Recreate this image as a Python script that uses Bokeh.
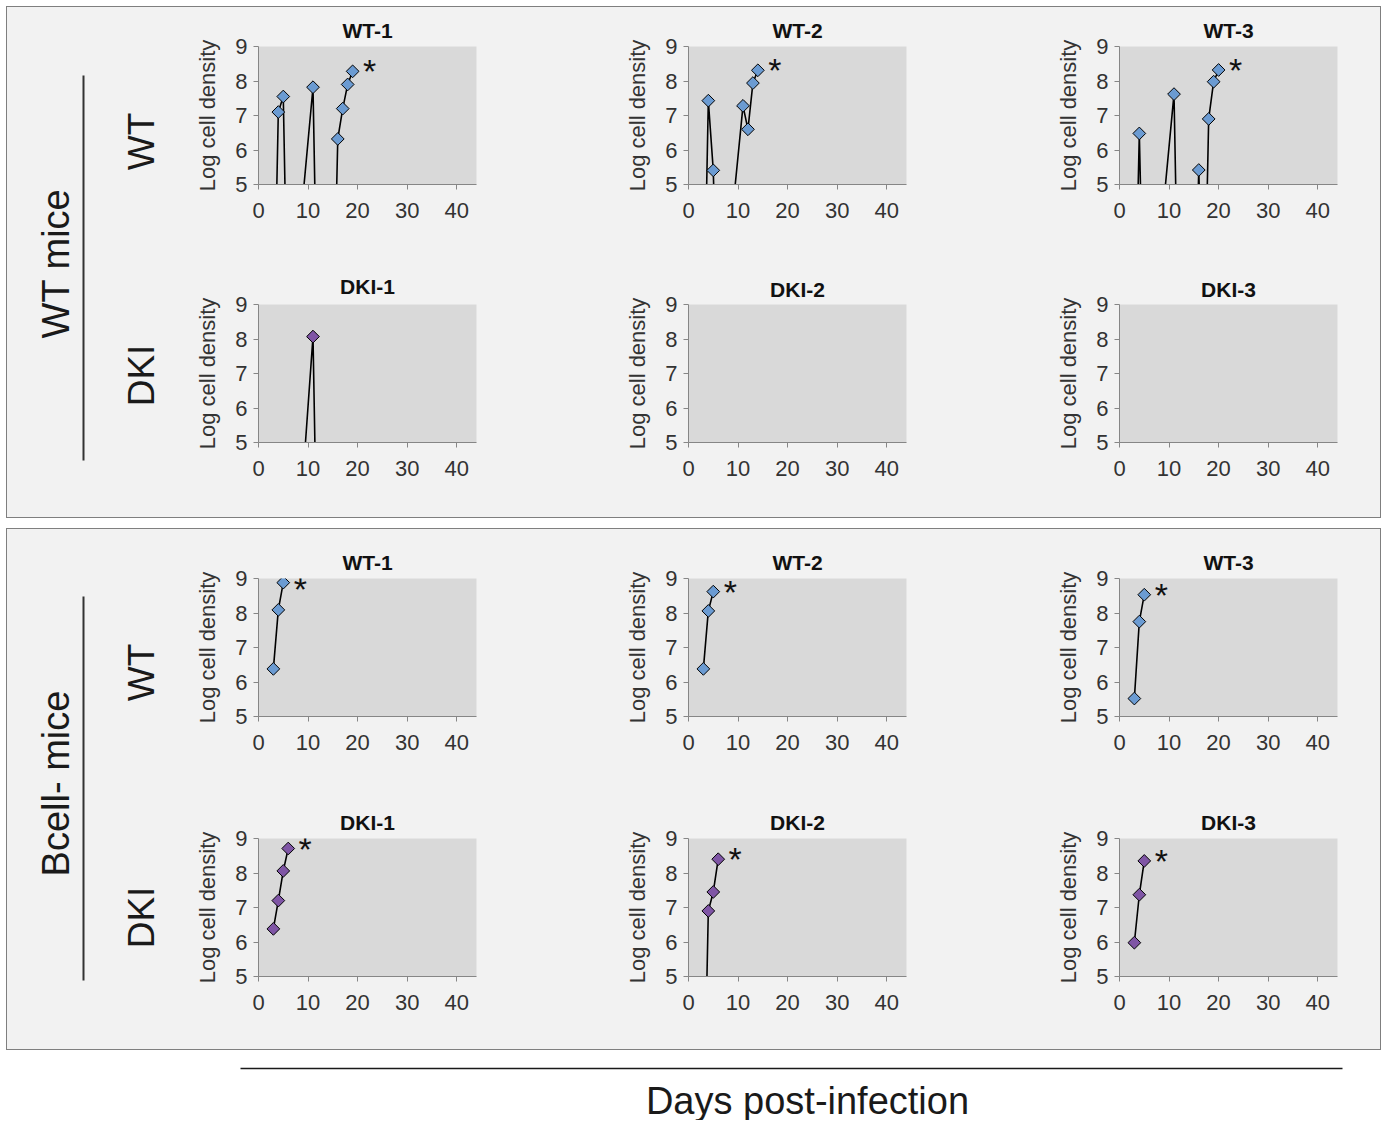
import math
from bokeh.plotting import figure
from bokeh.models import Range1d, FixedTicker, Spacer, Label
from bokeh.layouts import row, column
from bokeh.embed import file_html
from bokeh.resources import INLINE
from bokeh.core.properties import value

FONT = "Liberation Sans"
PANEL_BG = "#f2f2f2"
PLOT_BG = "#d9d9d9"
EDGE = "#7f7f7f"
BLUE = "#6b9bd2"
PURPLE = "#7f55a5"

# ---------------- data ----------------
x_ticks = [0, 10, 20, 30, 40]
y_ticks = [5, 6, 7, 8, 9]

# WT mice panel
wtm_wt1_day = [3, 4, 5, 6, 11, 12, 15, 16, 17, 18, 19]
wtm_wt1_log = [0, 7.10, 7.55, 0, 7.82, 0, 0, 6.32, 7.20, 7.90, 8.28]
wtm_wt2_day = [3, 4, 5, 6, 11, 12, 13, 14]
wtm_wt2_log = [0, 7.43, 5.41, 0, 7.28, 6.60, 7.94, 8.31]
wtm_wt3_day = [3, 4, 5, 6, 11, 12, 15, 16, 17, 18, 19, 20]
wtm_wt3_log = [0, 6.48, 0, 0, 7.62, 0, 0, 5.42, 0, 6.90, 7.98, 8.32]
wtm_dki1_day = [7, 11, 12]
wtm_dki1_log = [0, 8.07, 0]
wtm_dki2_day = []
wtm_dki2_log = []
wtm_dki3_day = []
wtm_dki3_log = []

# Bcell- mice panel
bcm_wt1_day = [3, 4, 5]
bcm_wt1_log = [6.38, 8.09, 8.88]
bcm_wt2_day = [3, 4, 5]
bcm_wt2_log = [6.38, 8.06, 8.62]
bcm_wt3_day = [3, 4, 5]
bcm_wt3_log = [5.52, 7.75, 8.53]
bcm_dki1_day = [3, 4, 5, 6]
bcm_dki1_log = [6.38, 7.20, 8.06, 8.71]
bcm_dki2_day = [3, 4, 5, 6]
bcm_dki2_log = [0, 6.90, 7.45, 8.40]
bcm_dki3_day = [3, 4, 5]
bcm_dki3_log = [5.98, 7.37, 8.35]

titles_wt = ["WT-1", "WT-2", "WT-3"]
titles_dki = ["DKI-1", "DKI-2", "DKI-3"]
stars_wtm_wt = [True, True, True]
stars_wtm_dki = [False, False, False]
stars_bcm_wt = [True, True, True]
stars_bcm_dki = [True, True, True]

FRAME_W, FRAME_H, LEFT_B = 218, 138, 70
RIGHT_B = [142, 143, 43]


def small(title, days, logs, fill, star, col, top_b, bottom_b, standoff=9):
    p = figure(width=LEFT_B + FRAME_W + RIGHT_B[col], height=top_b + FRAME_H + bottom_b,
               x_range=Range1d(0, 44), y_range=Range1d(5, 9),
               output_backend="svg", toolbar_location=None,
               min_border_left=LEFT_B, min_border_right=RIGHT_B[col],
               min_border_top=top_b, min_border_bottom=bottom_b,
               background_fill_color=PLOT_BG, border_fill_color=PANEL_BG,
               outline_line_color=None)
    p.title.text = title
    p.title.align = "center"
    p.title.text_font = FONT
    p.title.text_font_size = "21px"
    p.title.text_font_style = "bold"
    p.title.text_color = "#111111"
    p.title.standoff = standoff
    p.grid.visible = False
    p.xaxis.ticker = FixedTicker(ticks=x_ticks)
    p.yaxis.ticker = FixedTicker(ticks=y_ticks)
    p.axis.minor_tick_line_color = None
    p.axis.axis_line_color = "#868686"
    p.axis.major_tick_line_color = "#868686"
    p.axis.major_tick_out = 5
    p.axis.major_tick_in = 0
    p.axis.major_label_text_font = FONT
    p.axis.major_label_text_font_size = "22px"
    p.axis.major_label_text_color = "#333333"
    p.xaxis.major_label_standoff = 13
    p.yaxis.major_label_standoff = 6
    p.yaxis.axis_label = "Log cell density"
    p.yaxis.axis_label_text_font = FONT
    p.yaxis.axis_label_text_font_size = "22px"
    p.yaxis.axis_label_text_font_style = "normal"
    p.yaxis.axis_label_text_color = "#333333"
    p.yaxis.axis_label_standoff = 12
    if days:
        p.line(days, logs, line_color="black", line_width=1.6)
        p.scatter(days, logs, marker="square", angle=math.pi / 4, size=9,
                  fill_color=fill, line_color="black", line_width=1)
        if star:
            # keep the asterisk inside the plot frame when the last value is near the top
            dy = -6 if logs[-1] > 8.8 else 0
            p.add_layout(Label(x=days[-1], y=logs[-1], text="*", text_font=FONT,
                               text_font_size="34px", text_align="center",
                               text_baseline="middle", x_offset=17, y_offset=dy,
                               text_color="#111111"))
    return p


def side(H, group, gy, ly0, ly1, wy, dy):
    p = figure(width=181, height=H, x_range=Range1d(0, 181), y_range=Range1d(0, H),
               x_axis_type=None, y_axis_type=None,
               output_backend="svg", toolbar_location=None, min_border=0,
               background_fill_color=PANEL_BG, border_fill_color=PANEL_BG,
               outline_line_color=None)
    p.grid.visible = False
    p.text(x=[48], y=[gy], text=[group], angle=math.pi / 2, text_font=value(FONT),
           text_font_size="38px", text_align="center", text_baseline="alphabetic",
           text_color="#1a1a1a")
    p.segment(x0=[76], y0=[ly0], x1=[76], y1=[ly1], line_color="#333333", line_width=2)
    p.text(x=[134, 134], y=[wy, dy], text=["WT", "DKI"], angle=math.pi / 2,
           text_font=value(FONT), text_font_size="37px", text_align="center",
           text_baseline="alphabetic", text_color="#1a1a1a")
    return p


PANEL_STYLE = {"outline": f"1px solid {EDGE}", "background-color": PANEL_BG}

# top panel (WT mice)
top_r1 = [small(titles_wt[i], d, l, BLUE, stars_wtm_wt[i], i, 39, 81)
          for i, (d, l) in enumerate([(wtm_wt1_day, wtm_wt1_log), (wtm_wt2_day, wtm_wt2_log),
                                      (wtm_wt3_day, wtm_wt3_log)])]
top_r2 = [small(titles_dki[i], d, l, PURPLE, stars_wtm_dki[i], i, 39, 74,
                standoff=13 if i == 0 else 8)
          for i, (d, l) in enumerate([(wtm_dki1_day, wtm_dki1_log), (wtm_dki2_day, wtm_dki2_log),
                                      (wtm_dki3_day, wtm_dki3_log)])]
top_side = side(510, "WT mice", 254, 442, 57, 376, 142)
top_panel = row(top_side, column(row(*top_r1), row(*top_r2)), styles=PANEL_STYLE)

# bottom panel (Bcell- mice)
bot_r1 = [small(titles_wt[i], d, l, BLUE, stars_bcm_wt[i], i, 49, 83)
          for i, (d, l) in enumerate([(bcm_wt1_day, bcm_wt1_log), (bcm_wt2_day, bcm_wt2_log),
                                      (bcm_wt3_day, bcm_wt3_log)])]
bot_r2 = [small(titles_dki[i], d, l, PURPLE, stars_bcm_dki[i], i, 39, 73)
          for i, (d, l) in enumerate([(bcm_dki1_day, bcm_dki1_log), (bcm_dki2_day, bcm_dki2_log),
                                      (bcm_dki3_day, bcm_dki3_log)])]
bot_side = side(520, "Bcell- mice", 266, 453, 69, 377, 132)
bot_panel = row(bot_side, column(row(*bot_r1), row(*bot_r2)), styles=PANEL_STYLE)

# shared x caption
days_fig = figure(width=1372, height=70, x_range=Range1d(0, 1372), y_range=Range1d(0, 70),
                  x_axis_type=None, y_axis_type=None, output_backend="svg",
                  toolbar_location=None, min_border=0, outline_line_color=None)
days_fig.grid.visible = False
days_fig.segment(x0=[233], y0=[52], x1=[1335], y1=[52], line_color="#1a1a1a", line_width=1.5)
days_fig.text(x=[800], y=[20], text=["Days post-infection"], text_font=value(FONT),
              text_font_size="38px", text_align="center", text_baseline="alphabetic",
              text_color="#1a1a1a")

body = column(top_panel, Spacer(height=12), bot_panel, Spacer(height=1), days_fig)
root = column(Spacer(height=7), row(Spacer(width=7), body))

open("out.html", "w").write(file_html(root, INLINE))
